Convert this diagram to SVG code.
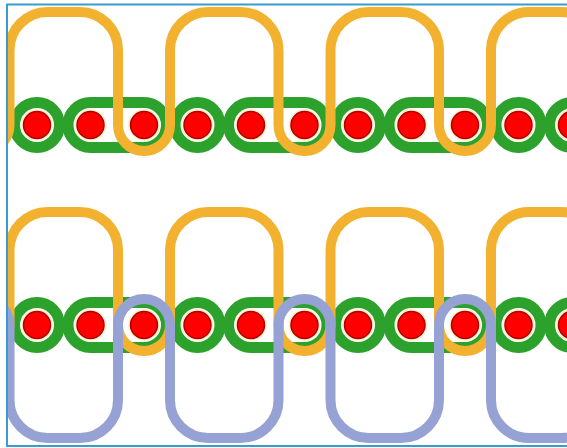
<svg xmlns="http://www.w3.org/2000/svg" xmlns:xlink="http://www.w3.org/1999/xlink" width="567" height="448" viewBox="0 0 567 448">
  <style>
    .g { fill: none; stroke: #2ca22c; stroke-width: 11; }
    .halo { fill: #fbf3d0; }
    .dot { fill: #ff0000; stroke: #b00000; stroke-width: 1.5; }
    .gold { fill: none; stroke: #f2b230; stroke-width: 10; }
    .lav { fill: none; stroke: #96a1d4; stroke-width: 10; }
    .frame { fill: none; stroke: #3a9bd0; stroke-width: 2; }
  </style>
  <defs>
    <clipPath id="clip">
      <rect x="8" y="5.5" width="600" height="439.5"/>
    </clipPath>
    <g id="greenRow">
      <rect class="g" x="-92.5" y="-22.5" width="98.5" height="45" rx="22.5"/>
      <circle class="g" cx="37" cy="0" r="22.5"/>
      <rect class="g" x="68" y="-22.5" width="98.5" height="45" rx="22.5"/>
      <circle class="g" cx="197.5" cy="0" r="22.5"/>
      <rect class="g" x="228.5" y="-22.5" width="98.5" height="45" rx="22.5"/>
      <circle class="g" cx="358" cy="0" r="22.5"/>
      <rect class="g" x="389" y="-22.5" width="98.5" height="45" rx="22.5"/>
      <circle class="g" cx="518.5" cy="0" r="22.5"/>
      <rect class="g" x="549.5" y="-22.5" width="98.5" height="45" rx="22.5"/>
    </g>
    <g id="dotRow">
      <g class="halo">
        <circle cx="37" cy="0" r="16"/><circle cx="90.5" cy="0" r="16"/><circle cx="144" cy="0" r="16"/>
        <circle cx="197.5" cy="0" r="16"/><circle cx="251" cy="0" r="16"/><circle cx="304.5" cy="0" r="16"/>
        <circle cx="358" cy="0" r="16"/><circle cx="411.5" cy="0" r="16"/><circle cx="465" cy="0" r="16"/>
        <circle cx="518.5" cy="0" r="16"/><circle cx="572" cy="0" r="16"/>
      </g>
      <g class="dot">
        <circle cx="37" cy="0" r="13.5"/><circle cx="90.5" cy="0" r="13.5"/><circle cx="144" cy="0" r="13.5"/>
        <circle cx="197.5" cy="0" r="13.5"/><circle cx="251" cy="0" r="13.5"/><circle cx="304.5" cy="0" r="13.5"/>
        <circle cx="358" cy="0" r="13.5"/><circle cx="411.5" cy="0" r="13.5"/><circle cx="465" cy="0" r="13.5"/>
        <circle cx="518.5" cy="0" r="13.5"/><circle cx="572" cy="0" r="13.5"/>
      </g>
    </g>
    <path id="wave" d="M -42.5 125 A 26 26 0 0 0 9.5 125 L 9.5 50 A 38 38 0 0 1 47.5 12 L 80 12 A 38 38 0 0 1 118 50 L 118 125 A 26 26 0 0 0 170 125 L 170 50 A 38 38 0 0 1 208 12 L 240.5 12 A 38 38 0 0 1 278.5 50 L 278.5 125 A 26 26 0 0 0 330.5 125 L 330.5 50 A 38 38 0 0 1 368.5 12 L 401 12 A 38 38 0 0 1 439 50 L 439 125 A 26 26 0 0 0 491 125 L 491 50 A 38 38 0 0 1 529 12 L 561.5 12 A 38 38 0 0 1 599.5 50 L 599.5 125"/>
  </defs>

  <rect width="567" height="448" fill="#ffffff"/>

  <g clip-path="url(#clip)">
    <g id="row1">
      <g id="row1-chain"><use xlink:href="#greenRow" href="#greenRow" transform="translate(0,125)"/></g>
      <g id="row1-dots"><use xlink:href="#dotRow" href="#dotRow" transform="translate(0,125)"/></g>
      <g id="row1-gold"><use xlink:href="#wave" href="#wave" class="gold"/></g>
    </g>
    <g id="row2">
      <g id="row2-chain"><use xlink:href="#greenRow" href="#greenRow" transform="translate(0,325)"/></g>
      <g id="row2-dots"><use xlink:href="#dotRow" href="#dotRow" transform="translate(0,325)"/></g>
      <g id="row2-gold"><use xlink:href="#wave" href="#wave" class="gold" transform="translate(0,200)"/></g>
      <g id="row2-lavender"><use xlink:href="#wave" href="#wave" class="lav" transform="matrix(1 0 0 -1 0 450)"/></g>
    </g>
  </g>

  <g id="frame">
    <rect class="frame" x="7" y="4.5" width="620" height="441.5"/>
  </g>
</svg>
